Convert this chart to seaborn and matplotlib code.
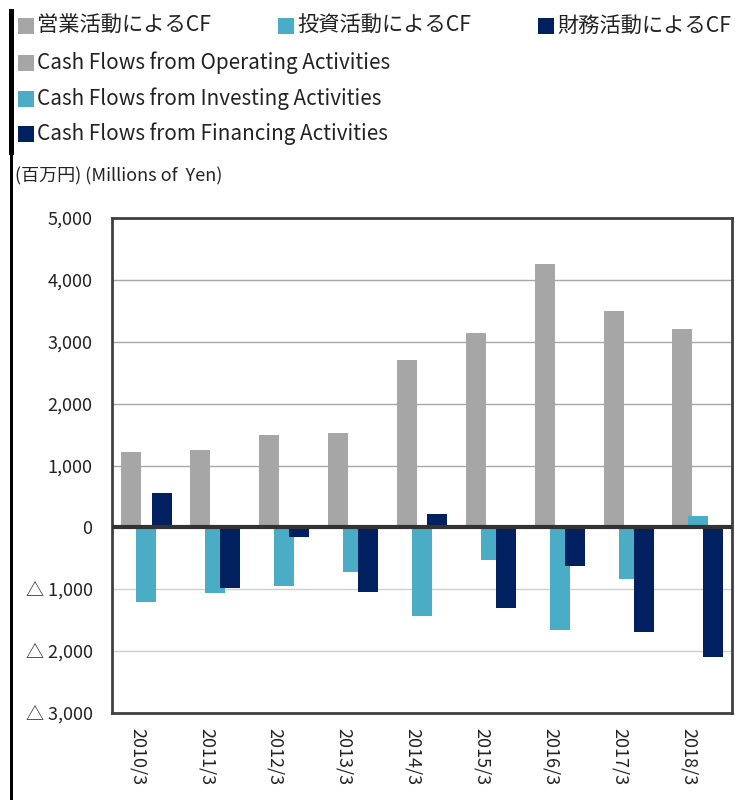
import pandas as pd
import matplotlib.pyplot as plt
import matplotlib.patches as mpatches
from matplotlib.ticker import FuncFormatter
import seaborn as sns

# キャッシュフロー推移 (百万円)
years = ['2010/3', '2011/3', '2012/3', '2013/3', '2014/3', '2015/3', '2016/3', '2017/3', '2018/3']
operating_cf = [1220, 1250, 1500, 1520, 2710, 3140, 4260, 3490, 3210]
investing_cf = [-1210, -1060, -940, -720, -1440, -530, -1660, -830, 180]
financing_cf = [550, -980, -150, -1040, 210, -1310, -630, -1690, -2100]

series_jp = ['営業活動によるCF', '投資活動によるCF', '財務活動によるCF']
series_en = ['Cash Flows from Operating Activities',
             'Cash Flows from Investing Activities',
             'Cash Flows from Financing Activities']
colors = ['#A6A6A6', '#4BACC6', '#002060']

df = pd.DataFrame({'year': years,
                   series_jp[0]: operating_cf,
                   series_jp[1]: investing_cf,
                   series_jp[2]: financing_cf})
long_df = df.melt(id_vars='year', var_name='series', value_name='value')

sns.set_style('white')
plt.rcParams['font.family'] = ['Noto Sans CJK JP', 'DejaVu Sans']

fig = plt.figure(figsize=(7.35, 8), dpi=100)
ax = fig.add_axes([112 / 735, 1 - 713 / 800, (732 - 112) / 735, (713 - 218) / 800])

# 重なり合う棒 -> gap をマイナスにする
sns.barplot(data=long_df, x='year', y='value', hue='series', palette=colors,
            width=0.66, gap=-0.32, dodge=True, saturation=1, legend=False,
            linewidth=0, ax=ax, zorder=2)

ax.set_ylim(-3000, 5000)
ax.set_yticks(range(-3000, 5001, 1000))
ax.yaxis.set_major_formatter(FuncFormatter(
    lambda v, p: f'△ {abs(int(v)):,}' if v < 0 else f'{int(v):,}'))
ax.set_xlabel('')
ax.set_ylabel('')
ax.tick_params(axis='both', length=0, labelsize=13, colors='#222222')
ax.tick_params(axis='y', pad=14)
ax.tick_params(axis='x', pad=11)
for lab in ax.get_xticklabels():
    lab.set_rotation(270)
    lab.set_va('top')
    lab.set_ha('right')

ax.set_axisbelow(True)
ax.yaxis.grid(True, color='#A6A6A6', lw=1)
for v, gl in zip(ax.get_yticks(), ax.get_ygridlines()):
    if v < 0:
        gl.set_color('#CFCFCF')
ax.axhline(0, color='#333333', lw=3, zorder=3)
for s in ax.spines.values():
    s.set_visible(True)
    s.set_color('#404040')
    s.set_linewidth(2)

# 左の黒い縦線
fig.add_artist(mpatches.Rectangle((9 / 735, 1 - 155 / 800), 5 / 735, 146 / 800,
                                  transform=fig.transFigure, color='black', lw=0))
fig.add_artist(mpatches.Rectangle((10 / 735, 0), 3 / 735, 1 - 155 / 800,
                                  transform=fig.transFigure, color='black', lw=0))

# 凡例 (テキスト)
def legend_item(x, y, color, label, size):
    fig.add_artist(mpatches.Rectangle((x / 735, 1 - (y + 8) / 800), 16 / 735, 16 / 800,
                                      transform=fig.transFigure, color=color, lw=0))
    fig.text((x + 19) / 735, 1 - y / 800, label, fontsize=size, color='#222222',
             va='center', ha='left')

legend_item(18, 26, colors[0], series_jp[0], 15.3)
legend_item(278, 26, colors[1], series_jp[1], 15.3)
legend_item(538, 26, colors[2], series_jp[2], 15.3)
legend_item(18, 63, colors[0], series_en[0], 14.9)
legend_item(18, 99, colors[1], series_en[1], 14.9)
legend_item(18, 134, colors[2], series_en[2], 14.9)

fig.text(15 / 735, 1 - 176 / 800, '(百万円) (Millions of  Yen)', fontsize=13,
         color='#222222', va='center', ha='left')

fig.savefig('out.png', dpi=100)
